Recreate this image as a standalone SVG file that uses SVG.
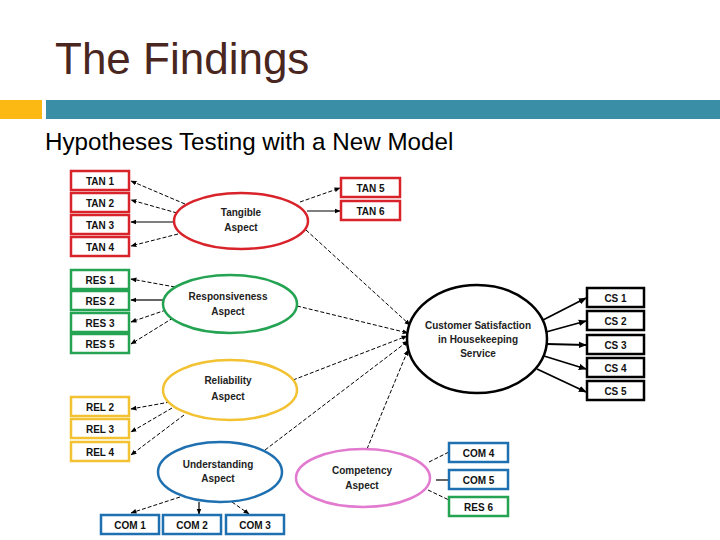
<svg xmlns="http://www.w3.org/2000/svg" width="720" height="540" viewBox="0 0 720 540">
<defs>
<marker id="ah" viewBox="0 0 10 10" refX="9" refY="5" markerWidth="6" markerHeight="6" orient="auto" markerUnits="userSpaceOnUse">
<path d="M0,1 L10,5 L0,9 z" fill="#000"/>
</marker>
<marker id="ahb" viewBox="0 0 10 10" refX="9" refY="5" markerWidth="8" markerHeight="8" orient="auto" markerUnits="userSpaceOnUse">
<path d="M0,1 L10,5 L0,9 z" fill="#000"/>
</marker>
</defs>
<style>
.box{fill:#fff;stroke-width:2.5}
.red{stroke:#d8232a}
.grn{stroke:#24a352}
.yel{stroke:#f2c232}
.blu{stroke:#1f70b0}
.pnk{stroke:#e27ad0}
.blk{stroke:#000}
.ell{fill:#fff;stroke-width:2.5}
.lbl{font-family:"Liberation Sans",Arial,sans-serif;font-weight:bold;font-size:10px;text-anchor:middle;fill:#111}
.el{font-family:"Liberation Sans",Arial,sans-serif;font-weight:bold;font-size:10px;text-anchor:middle;fill:#222}
.d{stroke:#000;stroke-width:1;stroke-dasharray:4 2;fill:none;marker-end:url(#ah)}
.s{stroke:#000;stroke-width:1.2;fill:none;marker-end:url(#ah)}
.dn{stroke:#000;stroke-width:1;stroke-dasharray:4 2;fill:none}
.sn{stroke:#000;stroke-width:1.2;fill:none}
.cs{stroke:#000;stroke-width:1.8;fill:none;marker-end:url(#ahb)}
</style>
<rect width="720" height="540" fill="#fff"/>
<text x="55" y="74" font-family="Liberation Sans,Arial,sans-serif" font-size="44" fill="#4a2620">The Findings</text>
<rect x="0" y="100" width="42" height="19" fill="#fdb913"/>
<rect x="46" y="100" width="674" height="19" fill="#3a8fa6"/>
<text x="45" y="150" font-family="Liberation Sans,Arial,sans-serif" font-size="24.2" fill="#000">Hypotheses Testing with a New Model</text>

<g id="connectors">
<line class="d" x1="185" y1="204" x2="131" y2="181"/>
<line class="d" x1="177" y1="213" x2="131" y2="200"/>
<line class="s" x1="174" y1="222" x2="131" y2="222"/>
<line class="d" x1="178" y1="234" x2="131" y2="246"/>
<line class="d" x1="300" y1="202" x2="340" y2="188"/>
<line class="s" x1="307" y1="211" x2="340" y2="211"/>
<line class="d" x1="306" y1="230" x2="410" y2="325"/>
<line class="d" x1="175" y1="287" x2="131" y2="279"/>
<line class="s" x1="163" y1="300" x2="131" y2="300"/>
<line class="d" x1="166" y1="310" x2="131" y2="322"/>
<line class="d" x1="173" y1="318" x2="131" y2="344"/>
<line class="d" x1="297" y1="306" x2="408" y2="333"/>
<line class="d" x1="170" y1="402" x2="131" y2="409"/>
<line class="d" x1="172" y1="408" x2="131" y2="432"/>
<line class="d" x1="184" y1="415" x2="131" y2="455"/>
<line class="d" x1="293" y1="380" x2="407" y2="336"/>
<line class="d" x1="265" y1="450" x2="408" y2="341"/>
<line class="d" x1="367" y1="449" x2="408" y2="350"/>
<line class="d" x1="180" y1="497" x2="131" y2="513"/>
<line class="s" x1="199" y1="502" x2="199" y2="514"/>
<line class="d" x1="232" y1="502" x2="249" y2="514"/>
<line class="dn" x1="429" y1="462" x2="449" y2="452"/>
<line class="sn" x1="436" y1="480" x2="449" y2="480"/>
<line class="dn" x1="428" y1="490" x2="449" y2="500"/>
<line class="cs" x1="543" y1="320" x2="586" y2="298"/>
<line class="cs" x1="546" y1="332" x2="586" y2="321"/>
<line class="cs" x1="547" y1="344" x2="586" y2="345"/>
<line class="cs" x1="544" y1="356" x2="586" y2="369"/>
<line class="cs" x1="537" y1="369" x2="586" y2="392"/>
</g>

<g id="tan1"><rect class="box red" x="71" y="171" width="58" height="19"/><text class="lbl" x="100" y="184.5">TAN 1</text></g>
<g id="tan2"><rect class="box red" x="71" y="193" width="58" height="19"/><text class="lbl" x="100" y="206.5">TAN 2</text></g>
<g id="tan3"><rect class="box red" x="71" y="215" width="58" height="19"/><text class="lbl" x="100" y="228.5">TAN 3</text></g>
<g id="tan4"><rect class="box red" x="71" y="237" width="58" height="19"/><text class="lbl" x="100" y="250.5">TAN 4</text></g>
<g id="tan5"><rect class="box red" x="341" y="178" width="59" height="19"/><text class="lbl" x="370.5" y="191.5">TAN 5</text></g>
<g id="tan6"><rect class="box red" x="341" y="201" width="59" height="19"/><text class="lbl" x="370.5" y="214.5">TAN 6</text></g>

<g id="res1"><rect class="box grn" x="71" y="270" width="58" height="19"/><text class="lbl" x="100" y="283.5">RES 1</text></g>
<g id="res2"><rect class="box grn" x="71" y="291" width="58" height="19"/><text class="lbl" x="100" y="304.5">RES 2</text></g>
<g id="res3"><rect class="box grn" x="71" y="313" width="58" height="19"/><text class="lbl" x="100" y="326.5">RES 3</text></g>
<g id="res5"><rect class="box grn" x="71" y="334" width="58" height="19"/><text class="lbl" x="100" y="347.5">RES 5</text></g>

<g id="rel2"><rect class="box yel" x="71" y="397" width="58" height="19"/><text class="lbl" x="100" y="410.5">REL 2</text></g>
<g id="rel3"><rect class="box yel" x="71" y="419" width="58" height="19"/><text class="lbl" x="100" y="432.5">REL 3</text></g>
<g id="rel4"><rect class="box yel" x="71" y="442" width="58" height="19"/><text class="lbl" x="100" y="455.5">REL 4</text></g>

<g id="com1"><rect class="box blu" x="101" y="515" width="58" height="19"/><text class="lbl" x="130" y="528.5">COM 1</text></g>
<g id="com2"><rect class="box blu" x="163" y="515" width="58" height="19"/><text class="lbl" x="192" y="528.5">COM 2</text></g>
<g id="com3"><rect class="box blu" x="226" y="515" width="58" height="19"/><text class="lbl" x="255" y="528.5">COM 3</text></g>

<g id="com4"><rect class="box blu" x="449" y="443" width="59" height="19"/><text class="lbl" x="478.5" y="456.5">COM 4</text></g>
<g id="com5"><rect class="box blu" x="449" y="470" width="59" height="19"/><text class="lbl" x="478.5" y="483.5">COM 5</text></g>
<g id="res6"><rect class="box grn" x="449" y="497" width="59" height="19"/><text class="lbl" x="478.5" y="510.5">RES 6</text></g>

<g id="cs1"><rect class="box blk" x="587" y="288" width="57" height="19"/><text class="lbl" x="615.5" y="301.5">CS 1</text></g>
<g id="cs2"><rect class="box blk" x="587" y="311" width="57" height="19"/><text class="lbl" x="615.5" y="324.5">CS 2</text></g>
<g id="cs3"><rect class="box blk" x="587" y="335" width="57" height="19"/><text class="lbl" x="615.5" y="348.5">CS 3</text></g>
<g id="cs4"><rect class="box blk" x="587" y="358" width="57" height="19"/><text class="lbl" x="615.5" y="371.5">CS 4</text></g>
<g id="cs5"><rect class="box blk" x="587" y="381" width="57" height="19"/><text class="lbl" x="615.5" y="394.5">CS 5</text></g>

<g id="tangible"><ellipse class="ell red" cx="241" cy="221" rx="67" ry="28"/><text class="el" x="241" y="216">Tangible</text><text class="el" x="241" y="231">Aspect</text></g>
<g id="responsiveness"><ellipse class="ell grn" cx="230" cy="304" rx="67" ry="29"/><text class="el" x="228" y="300">Responsiveness</text><text class="el" x="228" y="315">Aspect</text></g>
<g id="reliability"><ellipse class="ell yel" cx="230" cy="390" rx="67" ry="30"/><text class="el" x="228" y="384">Reliability</text><text class="el" x="228" y="400">Aspect</text></g>
<g id="understanding"><ellipse class="ell blu" cx="220" cy="472" rx="62" ry="30"/><text class="el" x="218" y="468">Understanding</text><text class="el" x="218" y="482">Aspect</text></g>
<g id="competency"><ellipse class="ell pnk" cx="363" cy="478" rx="67" ry="29"/><text class="el" x="362" y="474">Competency</text><text class="el" x="362" y="489">Aspect</text></g>
<g id="cs"><ellipse class="ell blk" cx="477" cy="339" rx="70" ry="54"/><text class="el" x="478" y="329">Customer Satisfaction</text><text class="el" x="478" y="343">in Housekeeping</text><text class="el" x="478" y="357">Service</text></g>
</svg>
